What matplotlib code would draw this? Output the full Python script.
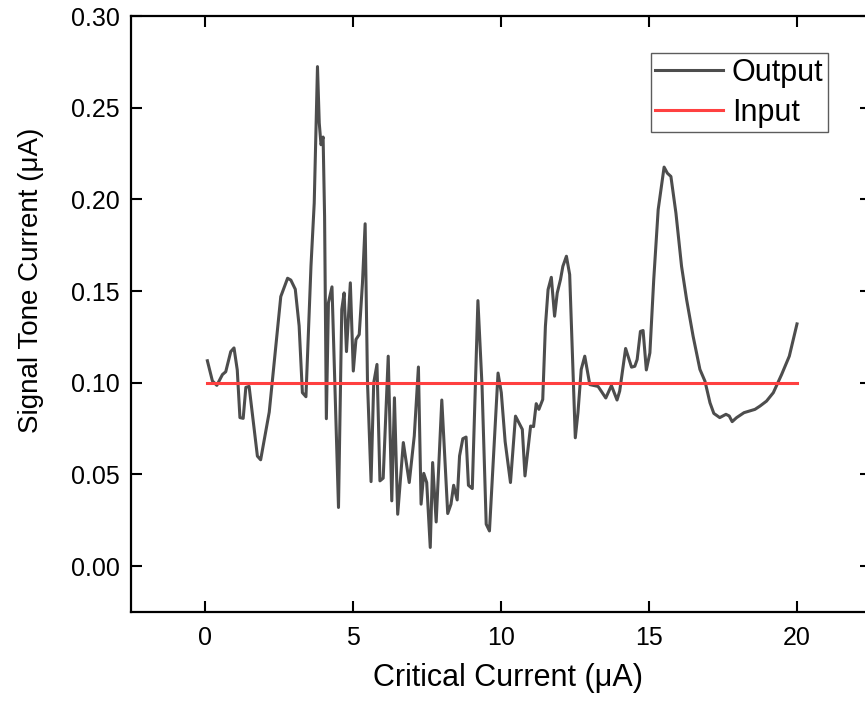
import matplotlib.pyplot as plt

plt.rcParams['font.family'] = ['Liberation Sans', 'DejaVu Sans']

# Output trace
out_x = [0.08, 0.25, 0.40, 0.59, 0.70, 0.87, 0.98, 1.09, 1.18, 1.29, 1.38, 1.49,
         1.77, 1.88, 2.17, 2.56, 2.79, 2.90, 3.05, 3.18, 3.29, 3.41, 3.58, 3.69,
         3.80, 3.86, 3.92, 3.99, 4.04, 4.10, 4.17, 4.29, 4.51, 4.62, 4.70, 4.78,
         4.91, 5.01, 5.10, 5.21, 5.32, 5.41, 5.49, 5.61, 5.70, 5.81, 5.91, 6.02,
         6.19, 6.31, 6.40, 6.51, 6.70, 6.90, 7.07, 7.21, 7.30, 7.39, 7.49, 7.61,
         7.69, 7.81, 8.00, 8.20, 8.31, 8.40, 8.52, 8.60, 8.71, 8.82, 8.90, 9.03,
         9.22, 9.36, 9.50, 9.61, 9.90, 10.01, 10.14, 10.32, 10.49, 10.72, 10.81,
         11.00, 11.10, 11.19, 11.28, 11.41, 11.50, 11.59, 11.70, 11.81, 11.90,
         12.01, 12.09, 12.21, 12.32, 12.51, 12.60, 12.71, 12.83, 13.00, 13.28,
         13.54, 13.73, 13.92, 14.01, 14.21, 14.41, 14.52, 14.60, 14.71, 14.80,
         14.91, 15.03, 15.16, 15.31, 15.51, 15.62, 15.74, 15.91, 16.10, 16.27,
         16.49, 16.72, 16.89, 17.06, 17.19, 17.39, 17.60, 17.71, 17.81, 17.96,
         18.21, 18.58, 18.75, 18.97, 19.20, 19.48, 19.74, 20.00]
out_y = [0.112, 0.101, 0.0986, 0.1045, 0.106, 0.117, 0.119, 0.107, 0.081, 0.0806,
         0.0975, 0.098, 0.060, 0.058, 0.084, 0.147, 0.157, 0.156, 0.151, 0.131,
         0.0946, 0.0924, 0.1635, 0.198, 0.2724, 0.2416, 0.2298, 0.234, 0.1907,
         0.0804, 0.1436, 0.1523, 0.032, 0.140, 0.149, 0.117, 0.1545, 0.1064,
         0.1236, 0.1263, 0.1545, 0.1867, 0.100, 0.0461, 0.100, 0.110, 0.0465,
         0.048, 0.1145, 0.0356, 0.0918, 0.0283, 0.0674, 0.0456, 0.071, 0.1086,
         0.0338, 0.0506, 0.0456, 0.0102, 0.0565, 0.0241, 0.0906, 0.0287, 0.0338,
         0.0441, 0.0361, 0.0601, 0.0695, 0.0704, 0.0441, 0.0423, 0.1448, 0.098,
         0.0229, 0.0192, 0.1053, 0.0946, 0.0679, 0.0456, 0.0818, 0.0746, 0.0492,
         0.0764, 0.0761, 0.0886, 0.0855, 0.0909, 0.1308, 0.1508, 0.1575, 0.1363,
         0.149, 0.1563, 0.1635, 0.169, 0.159, 0.070, 0.0837, 0.1073, 0.1145,
         0.099, 0.098, 0.0917, 0.0985, 0.0906, 0.0955, 0.1187, 0.1085, 0.109,
         0.1127, 0.128, 0.1285, 0.107, 0.1163, 0.1563, 0.1944, 0.2176, 0.2143,
         0.2125, 0.1925, 0.1635, 0.1454, 0.1254, 0.1073, 0.1009, 0.0891, 0.0833,
         0.081, 0.0828, 0.0819, 0.0788, 0.081, 0.0837, 0.0855, 0.0873, 0.090,
         0.0946, 0.1045, 0.1145, 0.1321]

# Input reference level
in_x = [0.08, 20.0]
in_y = [0.10, 0.10]

xticks = [0, 5, 10, 15, 20]
yticks = [0.00, 0.05, 0.10, 0.15, 0.20, 0.25, 0.30]

fig = plt.figure(figsize=(8.65, 7.02), dpi=100)
# right spine sits just past the image edge, as in the reference
ax = fig.add_axes([131 / 865, 90 / 702, 740 / 865, 596 / 702])

ax.plot(out_x, out_y, color='#4d4d4d', linewidth=2.2, label='Output')
ax.plot(in_x, in_y, color='#ff4040', linewidth=2.2, label='Input')

ax.set_xlim(-2.5, 22.5)
ax.set_ylim(-0.025, 0.30)
ax.set_xticks(xticks)
ax.set_yticks(yticks)
ax.set_yticklabels([f'{v:.2f}' for v in yticks])

ax.tick_params(direction='in', length=8, width=1.5, labelsize=18,
               top=True, right=True)
ax.tick_params(axis='x', pad=10)
ax.tick_params(axis='y', pad=8)
for s in ax.spines.values():
    s.set_linewidth(1.6)

ax.set_xlabel('Critical Current (μA)', fontsize=22)
ax.set_ylabel('Signal Tone Current (μA)', fontsize=20)
ax.xaxis.set_label_coords(0.51, -0.085)
ax.yaxis.set_label_coords(-0.118, 0.557)

leg = ax.legend(loc='upper right', bbox_to_anchor=(697 / 740, 1 - 37 / 596),
                fontsize=22, frameon=True, fancybox=False, borderaxespad=0,
                handlelength=2.2, handletextpad=0.3, borderpad=0.15,
                labelspacing=0.33)
leg.get_frame().set_edgecolor('#333333')
leg.get_frame().set_linewidth(1.0)

fig.savefig('out.png', dpi=100)
